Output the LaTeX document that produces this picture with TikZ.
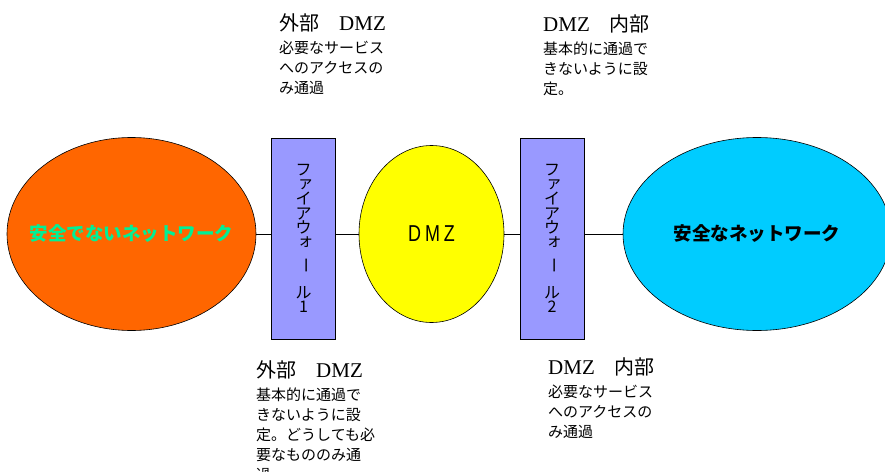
\documentclass[tikz,border=0pt]{standalone}
\usepackage{fontspec}
\setmainfont{Noto Sans CJK JP}
\newfontfamily\dmzserif{Liberation Serif}
\newfontfamily\dmzsans{Liberation Sans}
\usepackage{graphicx}
\usetikzlibrary{shapes.geometric}
\definecolor{netorange}{HTML}{FF6600}
\definecolor{dmzyellow}{HTML}{FFFF00}
\definecolor{netcyan}{HTML}{00CCFF}
\definecolor{fwblue}{HTML}{9999FF}
\definecolor{mint}{RGB}{0,240,150}
\tikzset{
    net/.style={draw,ellipse,line width=0.6pt,inner sep=0pt},
    netlabel/.style={font=\bfseries\fontsize{18.5}{20}\selectfont},
    wall/.style={draw,fill=fwblue,line width=0.6pt,minimum width=64pt,minimum height=201pt,
        align=center,inner sep=0pt,font=\fontsize{16}{14.6}\selectfont},
    note/.style={anchor=north west,align=left,inner sep=0pt,font=\fontsize{15}{20}\selectfont},
    link/.style={line width=0.6pt}
}
\newcommand{\headline}[1]{{\fontsize{20}{24}\selectfont #1}}
\newcommand{\dmzword}{{\dmzserif\fontsize{21}{24}\selectfont DMZ}}
\newcommand{\smallkana}[1]{\hspace*{4pt}\raisebox{2pt}{#1}}
\newcommand{\tatebar}{\raisebox{6pt}{\rotatebox{-90}{ー}}}

\begin{document}
\begin{tikzpicture}[x=1pt,y=-1pt]
\useasboundingbox (0,0) rectangle (885,471);

\node[net,fill=netorange,minimum width=249pt,minimum height=193pt,
    label={[netlabel,text=mint]center:安全でないネットワーク}] (unsafe) at (131.5,234) {};
\node[wall] (fw1) at (303.5,238.5) {フ\\\smallkana{ァ}\\イ\\ア\\ウ\\\smallkana{ォ}\\\tatebar\\[12pt]ル\\1};
\node[net,fill=dmzyellow,minimum width=145pt,minimum height=177pt] (dmz) at (431.5,234)
    {\dmzsans\fontsize{23}{23}\selectfont\scalebox{0.78}[1]{D\hspace{5pt}M\hspace{5pt}Z}};
\node[wall] (fw2) at (552,238.5) {フ\\\smallkana{ァ}\\イ\\ア\\ウ\\\smallkana{ォ}\\\tatebar\\[12pt]ル\\2};
\node[net,fill=netcyan,minimum width=268pt,minimum height=193pt,
    label={[netlabel]center:安全なネットワーク}] (safe) at (757,234) {};

\draw[link] (unsafe) -- (unsafe -| fw1.west);
\draw[link] (fw1.east |- dmz) -- (dmz);
\draw[link] (dmz) -- (dmz -| fw2.west);
\draw[link] (fw2.east |- safe) -- (safe);

\node[note] (outtop) at (279,13) {\headline{外部　\dmzword}\\[3pt]必要なサービス\\へのアクセスの\\み通過};
\node[note] (intop) at (543,14) {\headline{\dmzword　内部}\\[3pt]基本的に通過で\\きないように設\\定。};
\node[note] (outbot) at (256,360) {\headline{外部　\dmzword}\\[3pt]基本的に通過で\\きないように設\\定。どうしても必\\要なもののみ通\\過。};
\node[note] (inbot) at (548,357) {\headline{\dmzword　内部}\\[3pt]必要なサービス\\へのアクセスの\\み通過};
\end{tikzpicture}
\end{document}
